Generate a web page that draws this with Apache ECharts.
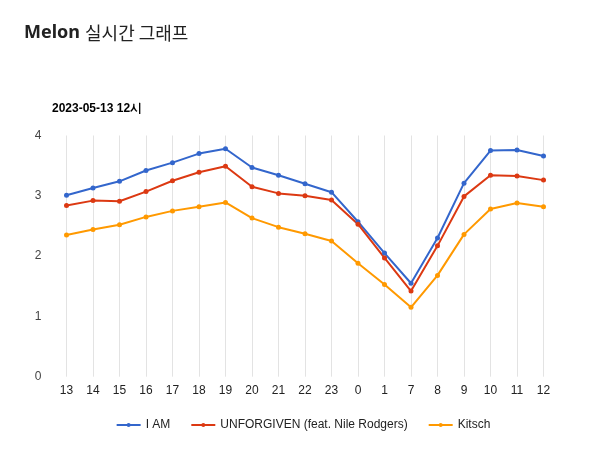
<!DOCTYPE html>
<html>
<head>
<meta charset="utf-8">
<script src="https://cdn.jsdelivr.net/npm/echarts@6/dist/echarts.min.js"></script>
<style>
html,body{margin:0;padding:0;background:#fff;}
#main{width:606px;height:474px;}
</style>
</head>
<body>
<div id="main"></div>
<script>
const categories = ['13','14','15','16','17','18','19','20','21','22','23','0','1','7','8','9','10','11','12'];
const seriesNames = ['I AM', 'UNFORGIVEN (feat. Nile Rodgers)', 'Kitsch'];
const iAm = [3.01, 3.13, 3.24, 3.42, 3.55, 3.70, 3.78, 3.47, 3.34, 3.20, 3.06, 2.57, 2.05, 1.55, 2.30, 3.21, 3.75, 3.76, 3.66];
const unforgiven = [2.84, 2.92, 2.91, 3.07, 3.25, 3.39, 3.49, 3.15, 3.04, 3.00, 2.93, 2.53, 1.97, 1.42, 2.17, 2.99, 3.34, 3.33, 3.26];
const kitsch = [2.35, 2.44, 2.52, 2.65, 2.75, 2.82, 2.89, 2.63, 2.48, 2.37, 2.25, 1.88, 1.53, 1.15, 1.68, 2.36, 2.78, 2.88, 2.82];
const yTicks = [0, 1, 2, 3, 4];

const colors = ['#3366cc', '#dc3912', '#ff9900'];
const values = [iAm, unforgiven, kitsch];

const chart = echarts.init(document.getElementById('main'), null, {renderer: 'canvas'});
chart.setOption({
  animation: false,
  color: colors,
  title: [
    {
      text: '{b|Melon} {n|실시간 그래프}',
      left: 24, top: 24, padding: 0,
      textStyle: {
        rich: {
          b: {fontFamily: "'Noto Sans', 'Noto Sans CJK KR', sans-serif", fontWeight: 'bold', fontSize: 18, color: '#222'},
          n: {fontFamily: "'Noto Sans CJK KR', 'Noto Sans', sans-serif", fontWeight: 'normal', fontSize: 18, color: '#222'}
        }
      }
    },
    {
      text: '2023-05-13 12시',
      left: 52, top: 103, padding: 0,
      textStyle: {fontFamily: "'Liberation Sans', Arial, sans-serif", fontWeight: 'bold', fontSize: 12, color: '#000'}
    }
  ],
  legend: {
    data: seriesNames,
    bottom: 38,
    left: 'center',
    itemWidth: 24,
    itemHeight: 5,
    itemGap: 20,
    textStyle: {fontFamily: "'Liberation Sans', Arial, sans-serif", fontSize: 12, color: '#222'}
  },
  grid: {left: 66.5, right: 62.5, top: 135.5, bottom: 97.3, containLabel: false},
  xAxis: {
    type: 'category',
    data: categories,
    boundaryGap: false,
    axisLine: {show: false},
    axisTick: {show: false},
    axisLabel: {margin: 8, fontFamily: "'Liberation Sans', Arial, sans-serif", fontSize: 12, color: '#222'},
    splitLine: {show: true, lineStyle: {color: '#e3e3e3', width: 1}}
  },
  yAxis: {
    type: 'value',
    min: yTicks[0], max: yTicks[yTicks.length - 1], interval: 1,
    axisLine: {show: false},
    axisTick: {show: false},
    splitLine: {show: false},
    axisLabel: {margin: 25, fontFamily: "'Liberation Sans', Arial, sans-serif", fontSize: 12, color: '#444'}
  },
  series: seriesNames.map((name, i) => ({
    name: name,
    type: 'line',
    data: values[i],
    symbol: 'circle',
    symbolSize: 5,
    lineStyle: {width: 2, color: colors[i]},
    itemStyle: {color: colors[i]}
  }))
});
</script>
</body>
</html>
